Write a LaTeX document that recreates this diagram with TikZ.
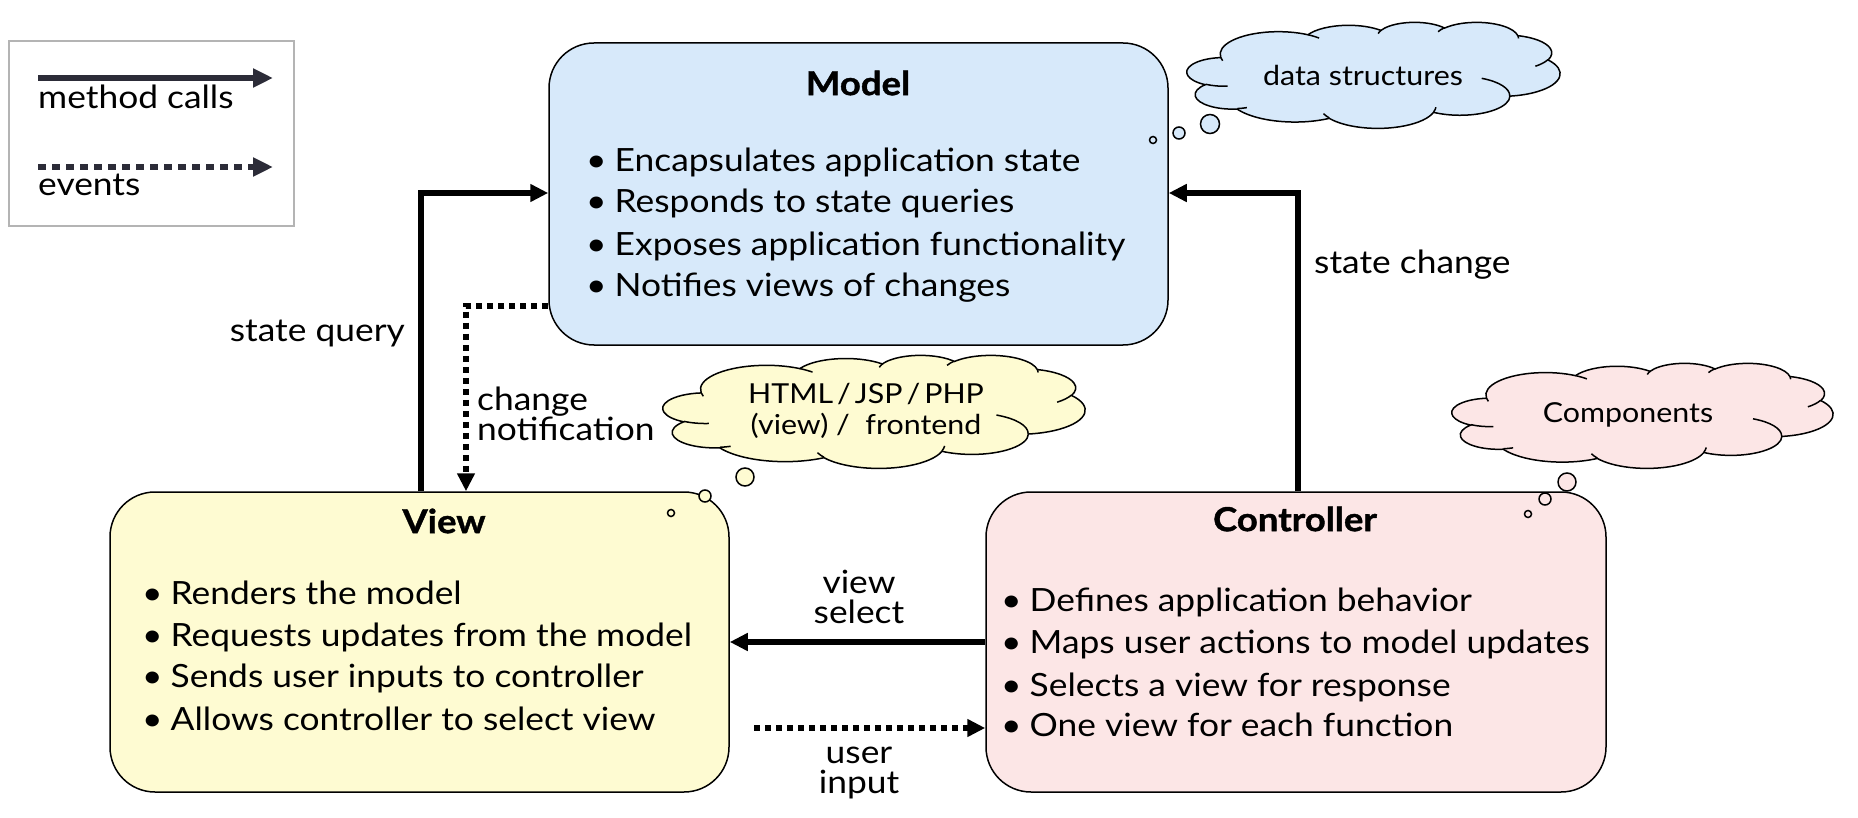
\documentclass[tikz,border=0pt]{standalone}
\usepackage{fontspec}
\setmainfont{Lato}[FakeStretch=1.105]
\newfontfamily\titlefont{Lato}[FakeStretch=1.105,FakeBold=1.2]
\usetikzlibrary{arrows.meta}
\definecolor{mblue}{HTML}{D7E9FA}
\definecolor{vyell}{HTML}{FEFBD2}
\definecolor{cpink}{HTML}{FCE6E6}
\definecolor{legarrow}{HTML}{2C2C38}
\definecolor{leggray}{HTML}{B4B4B4}
\newcommand{\bul}{•\kern8pt}
% convert an OOXML arcTo (visual angles) into TikZ parametric angles
\newcommand{\convarc}[5]{%
  \pgfmathsetmacro{\tmpS}{atan2((#2)*sin(#4),(#3)*cos(#4))}%
  \pgfmathsetmacro{\tmpE}{atan2((#2)*sin((#4)+(#5)),(#3)*cos((#4)+(#5)))}%
  \pgfmathsetmacro{\tmpD}{\tmpE-\tmpS}%
  \pgfmathsetmacro{\tmpD}{\tmpD<0 ? \tmpD+360 : \tmpD}%
  \expandafter\xdef\csname cldS#1\endcsname{\tmpS}%
  \expandafter\xdef\csname cldD#1\endcsname{\tmpD}%
}
\newcommand{\ca}[3]{arc[start angle=\csname cldS#1\endcsname, delta angle=\csname cldD#1\endcsname, x radius=#2, y radius=#3]}
\begin{document}
\convarc{A}{67.53}{91.90}{-190.487}{123.781}%
\convarc{B}{53.33}{72.67}{-144.102}{89.945}%
\convarc{C}{43.65}{59.45}{-145.808}{99.723}%
\convarc{D}{48.57}{65.95}{-130.986}{117.242}%
\convarc{E}{53.33}{72.73}{-78.709}{109.027}%
\convarc{F}{67.75}{92.20}{-46.267}{130.269}%
\convarc{G}{57.85}{78.67}{0.625}{114.033}%
\convarc{H}{67.52}{92.15}{22.452}{115.173}%
\convarc{I}{77.20}{105.43}{66.243}{75.711}%
\convarc{J}{43.60}{59.18}{-274.942}{146.736}%
\convarc{K}{43.45}{59.45}{-246.829}{152.519}%
\convarc{L}{43.45}{59.45}{86.742}{26.430}%
\convarc{M}{43.60}{59.18}{73.610}{11.447}%
\convarc{N}{67.52}{92.15}{137.624}{14.081}%
\convarc{O}{67.52}{92.15}{6.453}{15.998}%
\convarc{P}{57.85}{78.67}{-70.292}{70.917}%
\convarc{Q}{53.33}{72.73}{30.318}{27.752}%
\convarc{R}{48.57}{65.95}{-13.744}{14.859}%
\convarc{S}{48.57}{65.95}{-149.181}{18.195}%
\convarc{T}{43.65}{59.45}{-163.494}{17.686}%
\convarc{U}{67.53}{91.90}{-66.707}{12.319}%
\convarc{V}{67.53}{91.90}{157.654}{11.858}%
\begin{tikzpicture}[x=1pt,y=-1pt,
  box/.style={draw=black,line width=1.5pt,rounded corners=45pt,minimum width=619pt,minimum height=300pt,inner sep=0pt},
  title/.style={inner sep=0pt,font=\fontsize{33}{38}\selectfont\titlefont\bfseries},
  item/.style={anchor=west,inner sep=0pt,font=\fontsize{32}{38}\selectfont,text height=0.72em,text depth=0.22em},
  lbl/.style={font=\fontsize{32}{30}\selectfont,inner sep=0pt},
  mc/.style={line width=5.5pt,-{Triangle[length=18pt,width=17pt]}},
  ev/.style={line width=5.5pt,dash pattern=on 6pt off 5pt,-{Triangle[length=18pt,width=17pt]}},
  bub/.style={draw=black,line width=1.5pt},
  ctext/.style={font=\fontsize{27.5}{31}\selectfont,inner sep=0pt,align=center},
  pptcloud/.pic={
    \path[pic actions] (39.00,143.70) \ca{A}{67.53}{91.90} \ca{B}{53.33}{72.67}
      \ca{C}{43.65}{59.45} \ca{D}{48.57}{65.95} \ca{E}{53.33}{72.73}
      \ca{F}{67.75}{92.20} \ca{G}{57.85}{78.67} \ca{H}{67.52}{92.15}
      \ca{I}{77.20}{105.43} \ca{J}{43.60}{59.18} \ca{K}{43.45}{59.45} -- cycle;
    \draw[line width=1.5pt]
      (46.93,261.77) \ca{L}{43.45}{59.45}
      (69.28,348.99) \ca{M}{43.60}{59.18}
      (164.78,390.90) \ca{N}{67.52}{92.15}
      (288.27,347.51) \ca{O}{67.52}{92.15}
      (341.29,229.54) \ca{P}{57.85}{78.67}
      (417.98,153.54) \ca{Q}{53.33}{72.73}
      (383.24,54.26) \ca{R}{48.57}{65.95}
      (290.78,39.52) \ca{S}{48.57}{65.95}
      (221.41,47.20) \ca{T}{43.65}{59.45}
      (140.00,51.92) \ca{U}{67.53}{91.90}
      (41.27,157.89) \ca{V}{67.53}{91.90};
  }
]
\useasboundingbox (0,0) rectangle (1858,818);
\fill[white] (0,0) rectangle (1858,818);

% legend
\node[draw=leggray,line width=1.5pt,minimum width=285pt,minimum height=185pt,inner sep=0pt] (legend) at (151.5,133.5) {};
\coordinate (l1a) at (38,78); \coordinate (l1b) at (273,78);
\coordinate (l2a) at (38,167); \coordinate (l2b) at (273,167);
\draw[legarrow,line width=6pt,-{Triangle[length=20pt,width=18pt]}] (l1a) -- (l1b);
\draw[legarrow,line width=6pt,dash pattern=on 8pt off 6pt,-{Triangle[length=20pt,width=18pt]}] (l2a) -- (l2b);
\node[item] (legmc) at (38,106) {method calls};
\node[item] (legev) at (38,193) {events};

% boxes
\node[box,fill=mblue,minimum height=302pt] (Model) at (858.5,194) {};
\node[box,fill=vyell] (View) at (419.5,642) {};
\node[box,fill=cpink,minimum width=620pt] (Controller) at (1296,642) {};

\node[title] (mtitle) at (858,83) {Model};
\node[item] (m1) at (586,169.5) {\bul Encapsulates application state};
\node[item] (m2) at (586,210.5) {\bul Responds to state queries};
\node[item] (m3) at (586,253.5) {\bul Exposes application functionality};
\node[item] (m4) at (586,294.5) {\bul Notifies views of changes};

\node[title] (vtitle) at (444,521) {View};
\node[item] (v1) at (142,601.5) {\bul Renders the model};
\node[item] (v2) at (142,643.5) {\bul Requests updates from the model};
\node[item] (v3) at (142,684.5) {\bul Sends user inputs to controller};
\node[item] (v4) at (142,727.5) {\bul Allows controller to select view};

\node[title] (ctitle) at (1295,519) {Controller};
\node[item] (c1) at (1001,608.5) {\bul Defines application behavior};
\node[item] (c2) at (1001,650.5) {\bul Maps user actions to model updates};
\node[item] (c3) at (1001,693.5) {\bul Selects a view for response};
\node[item] (c4) at (1001,733.5) {\bul One view for each function};

% thought clouds
\pic[draw=black,line width=1.5pt,fill=mblue,xscale=0.8634,yscale=0.2454] (dscloud) at (1187,22) {pptcloud};
\node[ctext] (dstext) at (1363,75) {data structures};
\draw[bub,fill=mblue] (1153,140) circle (3.5pt);
\draw[bub,fill=mblue] (1179,133) circle (6pt);
\draw[bub,fill=mblue] (1210,124) circle (9.5pt);

\pic[draw=black,line width=1.5pt,fill=vyell,xscale=0.9769,yscale=0.2616] (htcloud) at (663,355) {pptcloud};
\node[ctext] (httext) at (866,411) {HTML\hspace{4pt}/\hspace{4pt}JSP\hspace{4pt}/\hspace{4pt}PHP\\(view) /\ \ frontend};
\draw[bub,fill=vyell] (671,513) circle (3.5pt);
\draw[bub,fill=vyell] (705,496) circle (6pt);
\draw[bub,fill=vyell] (745,477) circle (9pt);

\pic[draw=black,line width=1.5pt,fill=cpink,xscale=0.8819,yscale=0.2431] (cocloud) at (1452,363) {pptcloud};
\node[ctext] (cotext) at (1628,415) {Components};
\draw[bub,fill=cpink] (1528,514) circle (3.5pt);
\draw[bub,fill=cpink] (1545,499) circle (6pt);
\draw[bub,fill=cpink] (1567,482) circle (9pt);

% connectors
\coordinate (sqx) at (421,0);
\coordinate (arY) at (0,193);
\coordinate (cnx) at (466,0);
\coordinate (cnY) at (0,306);
\coordinate (scx) at (1298,0);
\coordinate (vsY) at (0,642);
\coordinate (uiS) at (754,728);
\draw[mc] (View.north -| sqx) |- (Model.west |- arY);
\draw[ev] (Model.west |- cnY) -| (View.north -| cnx);
\draw[mc] (Controller.north -| scx) |- (Model.east |- arY);
\draw[mc] (Controller.west |- vsY) -- (View.east |- vsY);
\draw[ev] (uiS) -- (Controller.west |- uiS);

% labels
\node[lbl,anchor=east] (lsq) at (405,334) {state query};
\node[lbl,anchor=west,align=left] (lcn) at (477,414) {change\\notification};
\node[lbl,anchor=west] (lsc) at (1314,265) {state change};
\node[lbl,align=center] (lvs) at (859,597) {view\\select};
\node[lbl,align=center] (lui) at (859,773) {user\\input};
\end{tikzpicture}
\end{document}
